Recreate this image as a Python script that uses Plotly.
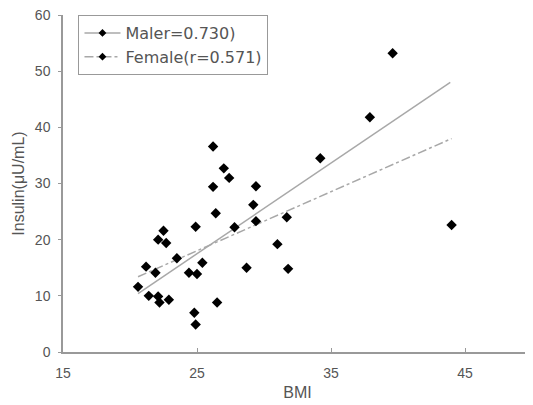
import plotly.graph_objects as go

# Data
male_bmi = [26.2, 27.0, 27.4, 29.4, 29.2, 31.7, 27.8, 34.2, 37.9, 39.6, 44.0, 31.0, 28.7, 25.4, 26.4, 22.5, 21.2]
male_ins = [36.6, 32.7, 31.0, 29.5, 26.2, 24.0, 22.2, 34.5, 41.8, 53.2, 22.6, 19.2, 15.0, 15.9, 24.7, 21.6, 15.2]
female_bmi = [26.2, 29.4, 24.9, 22.1, 22.7, 23.5, 21.9, 24.4, 25.0, 31.8, 20.6, 21.4, 22.1, 22.2, 22.9, 26.5, 24.8, 24.9]
female_ins = [29.4, 23.3, 22.3, 20.0, 19.4, 16.7, 14.1, 14.1, 13.9, 14.8, 11.6, 10.0, 9.9, 8.8, 9.3, 8.8, 7.0, 4.9]

male_fit_bmi = [20.6, 43.9]
male_fit_ins = [10.4, 48.0]
female_fit_bmi = [20.6, 44.0]
female_fit_ins = [13.4, 38.0]

x_ticks = [15, 25, 35, 45]
y_ticks = [0, 10, 20, 30, 40, 50, 60]

marker = dict(symbol="diamond", size=8, color="black")
fig = go.Figure()
fig.add_trace(go.Scatter(x=male_fit_bmi, y=male_fit_ins, mode="lines",
                         line=dict(color="#a8a8a8", width=1.5), showlegend=False))
fig.add_trace(go.Scatter(x=female_fit_bmi, y=female_fit_ins, mode="lines",
                         line=dict(color="#a8a8a8", width=1.5, dash="dashdot"), showlegend=False))
fig.add_trace(go.Scatter(x=male_bmi, y=male_ins, mode="markers", marker=marker, showlegend=False))
fig.add_trace(go.Scatter(x=female_bmi, y=female_ins, mode="markers", marker=marker, showlegend=False))
# legend entries
fig.add_trace(go.Scatter(x=[None], y=[None], mode="lines+markers", name="Maler=0.730)",
                         marker=dict(symbol="diamond", size=6, color="black"),
                         line=dict(color="#a8a8a8", width=1.5)))
fig.add_trace(go.Scatter(x=[None], y=[None], mode="lines+markers", name="Female(r=0.571)",
                         marker=dict(symbol="diamond", size=6, color="black"),
                         line=dict(color="#a8a8a8", width=1.5, dash="dashdot")))

axis_font = dict(family="Liberation Sans, Arial", size=14, color="#555555")
fig.update_layout(
    width=525, height=397,
    margin=dict(l=55, r=1, t=7, b=53, autoexpand=False),
    paper_bgcolor="white", plot_bgcolor="white",
    font=axis_font,
    legend=dict(x=0.033, y=1.0, xanchor="left", yanchor="top",
                bordercolor="#999999", borderwidth=1, bgcolor="white",
                font=dict(family="DejaVu Sans", size=16, color="#555555"),
                tracegroupgap=0, itemwidth=36),
    xaxis=dict(range=[15, 50], tickvals=x_ticks, showgrid=False, zeroline=False,
               showline=True, linecolor="#999999", linewidth=1.5, automargin=False,
               ticks="inside", ticklen=4, tickcolor="#999999",
               ticklabelstandoff=7, ticklabeloverflow="allow",
               title=dict(text="BMI", font=dict(size=16, color="#555555"), standoff=7)),
    yaxis=dict(range=[0, 60], tickvals=y_ticks, showgrid=False, zeroline=False,
               showline=True, linecolor="#999999", linewidth=1.5, automargin=False,
               ticks="outside", ticklen=3, tickcolor="#999999",
               ticklabelstandoff=5, ticklabeloverflow="allow",
               title=dict(text="Insulin(μU/mL)", font=dict(size=16, color="#555555"), standoff=6)),
)
fig.write_html("out.html")
